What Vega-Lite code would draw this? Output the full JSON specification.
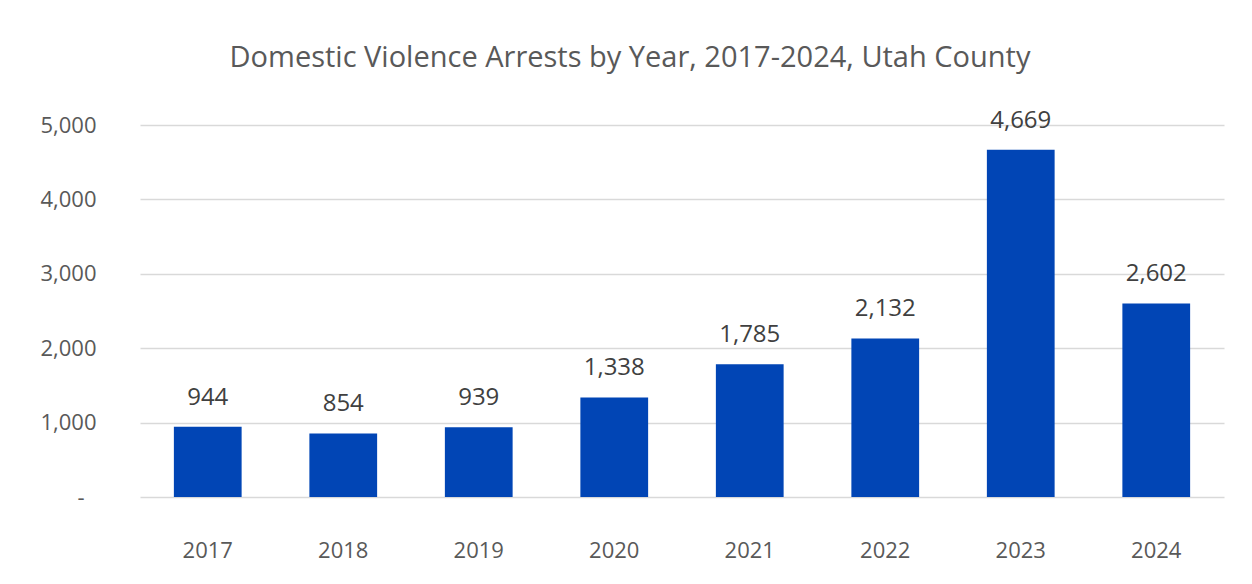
{
  "$schema": "https://vega.github.io/schema/vega-lite/v6.json",
  "width": 1084,
  "height": 372,
  "autosize": {"type": "none"},
  "padding": {"left": 140, "top": 125, "right": 28, "bottom": 87},
  "background": "white",
  "title": {
    "text": "Domestic Violence Arrests by Year, 2017-2024, Utah County",
    "font": "Open Sans",
    "fontSize": 29,
    "fontWeight": "normal",
    "color": "#595959",
    "anchor": "middle",
    "dx": -52,
    "offset": 36
  },
  "config": {
    "view": {"stroke": null},
    "font": "Open Sans"
  },
  "data": {
    "values": [
      {"year": "2017", "arrests": 944},
      {"year": "2018", "arrests": 854},
      {"year": "2019", "arrests": 939},
      {"year": "2020", "arrests": 1338},
      {"year": "2021", "arrests": 1785},
      {"year": "2022", "arrests": 2132},
      {"year": "2023", "arrests": 4669},
      {"year": "2024", "arrests": 2602}
    ]
  },
  "encoding": {
    "x": {
      "field": "year",
      "type": "ordinal",
      "scale": {"paddingInner": 0.5, "paddingOuter": 0.25},
      "axis": {
        "title": null,
        "labelAngle": 0,
        "labelFont": "Open Sans",
        "labelFontSize": 22,
        "labelColor": "#595959",
        "labelPadding": 43,
        "ticks": false,
        "domain": false,
        "grid": false
      }
    },
    "y": {
      "field": "arrests",
      "type": "quantitative",
      "scale": {"domain": [0, 5000]},
      "axis": {
        "title": null,
        "values": [0, 1000, 2000, 3000, 4000, 5000],
        "labelExpr": "datum.value == 0 ? '-' : format(datum.value, ',')",
        "labelFont": "Open Sans",
        "labelFontSize": 22,
        "labelColor": "#595959",
        "labelPadding": {"condition": {"test": "datum.value == 0", "value": 56}, "value": 44},
        "ticks": false,
        "domain": false,
        "grid": true,
        "gridColor": "#d9d9d9",
        "gridWidth": 1.5
      }
    }
  },
  "layer": [
    {"mark": {"type": "bar", "color": "#0145B5"}},
    {
      "mark": {
        "type": "text",
        "baseline": "alphabetic",
        "dy": -22,
        "font": "Open Sans",
        "fontSize": 24,
        "color": "#404040"
      },
      "encoding": {
        "text": {"field": "arrests", "type": "quantitative", "format": ","}
      }
    }
  ]
}
